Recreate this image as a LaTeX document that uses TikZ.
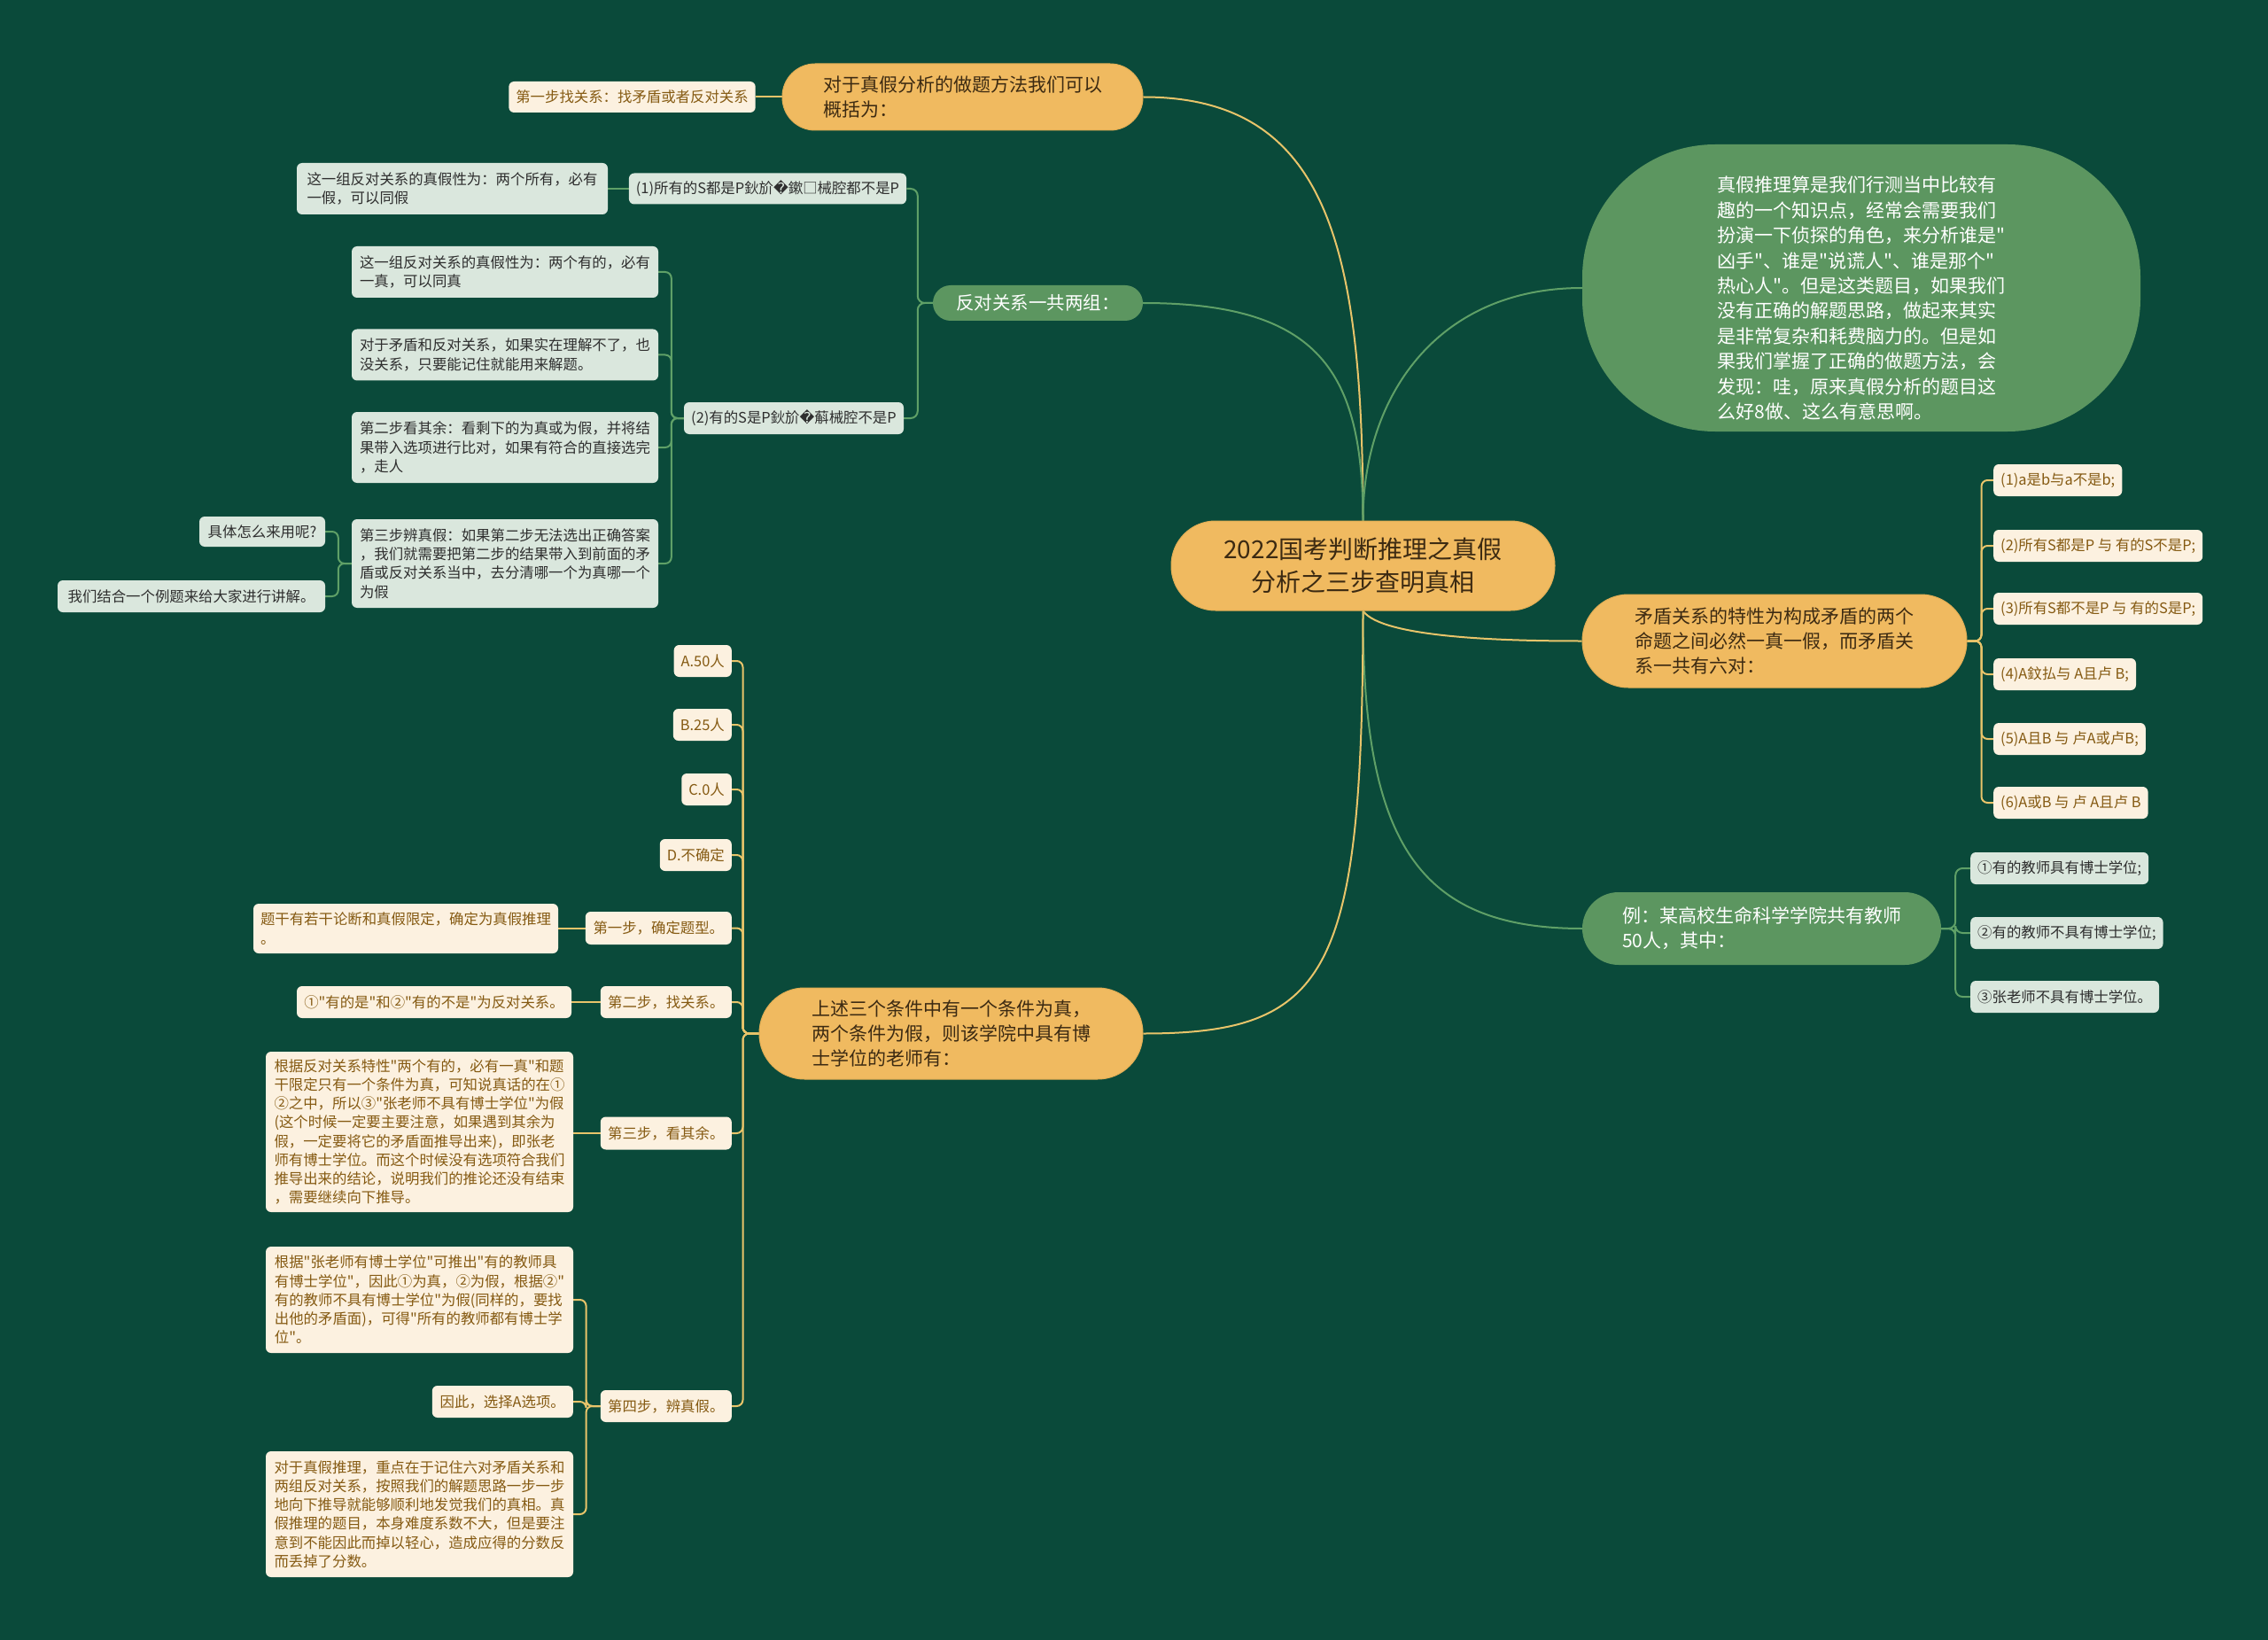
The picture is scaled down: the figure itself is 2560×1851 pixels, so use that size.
\documentclass[tikz,border=0pt]{standalone}
\usepackage{fontspec}
\usetikzlibrary{backgrounds}
\newfontfamily\cjk{Noto Sans CJK SC}
\newfontfamily\dvs{DejaVu Sans}
\definecolor{bgc}{HTML}{0A4A3A}
\definecolor{orc}{HTML}{F0BA60}
\definecolor{ordr}{HTML}{E2AE55}
\definecolor{ort}{HTML}{3C2A12}
\definecolor{olc}{HTML}{E8C46A}
\definecolor{crc}{HTML}{FCF1E0}
\definecolor{crt}{HTML}{855A12}
\definecolor{lgc}{HTML}{DAE7DD}
\definecolor{lgt}{HTML}{2E2E2E}
\definecolor{grc}{HTML}{5C9660}
\definecolor{glc}{HTML}{5FA067}
\newcommand\mmsmall{\cjk\fontsize{16.4}{21.2}\selectfont}
\newcommand\mmmid{\cjk\fontsize{21}{28}\selectfont}
\newcommand\mmbig{\cjk\fontsize{28}{37}\selectfont}
\newcommand\rep{{\dvs\char"FFFD}}
\tikzset{
  cream/.style={fill=crc, text=crt, rounded corners=6pt, inner xsep=8pt, inner ysep=5pt, align=left, font=\mmsmall},
  lgbox/.style={fill=lgc, text=lgt, rounded corners=6pt, inner xsep=8pt, inner ysep=5pt, align=left, font=\mmsmall},
  opill/.style={fill=orc, draw=ordr, line width=1pt, text=ort, align=left, font=\mmmid},
  gpill/.style={fill=grc, text=white, align=left, font=\mmmid},
  oline/.style={draw=olc, line width=2pt},
  gline/.style={draw=glc, line width=2pt},
}
\begin{document}
\begin{tikzpicture}[x=1pt,y=-1pt]
\begin{pgfonlayer}{background}
\fill[bgc] (0,0) rectangle (2560,1851);
\end{pgfonlayer}
\useasboundingbox (0,0) rectangle (2560,1851);

% root
\node[opill, font=\mmbig, align=center, minimum width=433pt, minimum height=101pt, rounded corners=50pt] (root) at (1538.5,638.5) {2022国考判断推理之真假\\分析之三步查明真相};

% upper left
\node[opill, minimum width=407pt, minimum height=75pt, rounded corners=37pt] (b1) at (1086.5,109.5) {对于真假分析的做题方法我们可以\\概括为：};
\node[cream, minimum width=277pt, minimum height=35pt] (b1c) at (713.5,109.5) {第一步找关系：找矛盾或者反对关系};

\node[gpill, font=\cjk\fontsize{20.5}{27}\selectfont, minimum width=237pt, minimum height=40pt, rounded corners=20pt] (b2) at (1171.5,342) {反对关系一共两组：};
\node[lgbox, minimum width=307pt, minimum height=35pt] (b2a) at (866.5,213) {(1)所有的S都是P鈥斺\rep 鏉□械腔都不是P};
\node[lgbox, minimum width=351pt, minimum height=58pt] (b2a1) at (510.5,213) {这一组反对关系的真假性为：两个所有，必有\\一假，可以同假};
\node[lgbox, minimum width=248pt, minimum height=36pt] (b2b) at (896,472) {(2)有的S是P鈥斺\rep 蔛械腔不是P};
\node[lgbox, minimum width=346pt, minimum height=58pt] (b2b1) at (570,307) {这一组反对关系的真假性为：两个有的，必有\\一真，可以同真};
\node[lgbox, minimum width=346pt, minimum height=58pt] (b2b2) at (570,400.5) {对于矛盾和反对关系，如果实在理解不了，也\\没关系，只要能记住就能用来解题。};
\node[lgbox, minimum width=346pt, minimum height=80pt] (b2b3) at (570,505) {第二步看其余：看剩下的为真或为假，并将结\\果带入选项进行比对，如果有符合的直接选完\\，走人};
\node[lgbox, minimum width=346pt, minimum height=100pt] (b2b4) at (570,636) {第三步辨真假：如果第二步无法选出正确答案\\，我们就需要把第二步的结果带入到前面的矛\\盾或反对关系当中，去分清哪一个为真哪一个\\为假};
\node[lgbox, minimum width=142pt, minimum height=34pt] (b2b4a) at (296,600) {具体怎么来用呢?};
\node[lgbox, minimum width=302pt, minimum height=36pt] (b2b4b) at (216,673) {我们结合一个例题来给大家进行讲解。};

% lower left
\node[opill, minimum width=433pt, minimum height=103pt, rounded corners=51pt] (b3) at (1073.5,1166.5) {上述三个条件中有一个条件为真，\\两个条件为假，则该学院中具有博\\士学位的老师有：};
\node[cream, anchor=east, minimum height=36pt] (oa) at (826,746) {A.50人};
\node[cream, anchor=east, minimum height=36pt] (ob) at (826,818) {B.25人};
\node[cream, anchor=east, minimum height=36pt] (oc) at (826,891) {C.0人};
\node[cream, anchor=east, minimum height=36pt] (od) at (826,965) {D.不确定};
\node[cream, anchor=east, minimum width=165pt, minimum height=37pt] (s1) at (826,1047.5) {第一步，确定题型。};
\node[cream, minimum width=344pt, minimum height=56pt] (s1c) at (458,1048) {题干有若干论断和真假限定，确定为真假推理\\。};
\node[cream, anchor=east, minimum width=148pt, minimum height=36pt] (s2) at (826,1131) {第二步，找关系。};
\node[cream, minimum width=310pt, minimum height=36pt] (s2c) at (490,1131) {①"有的是"和②"有的不是"为反对关系。};
\node[cream, anchor=east, minimum width=148pt, minimum height=37pt] (s3) at (826,1279) {第三步，看其余。};
\node[cream, minimum width=347pt, minimum height=181pt] (s3c) at (473.5,1277.5) {根据反对关系特性"两个有的，必有一真"和题\\干限定只有一个条件为真，可知说真话的在①\\②之中，所以③"张老师不具有博士学位"为假\\(这个时候一定要主要注意，如果遇到其余为\\假，一定要将它的矛盾面推导出来)，即张老\\师有博士学位。而这个时候没有选项符合我们\\推导出来的结论，说明我们的推论还没有结束\\，需要继续向下推导。};
\node[cream, anchor=east, minimum width=148pt, minimum height=36pt] (s4) at (826,1587) {第四步，辨真假。};
\node[cream, minimum width=347pt, minimum height=120pt] (s4a) at (473.5,1467) {根据"张老师有博士学位"可推出"有的教师具\\有博士学位"，因此①为真，②为假，根据②"\\有的教师不具有博士学位"为假(同样的，要找\\出他的矛盾面)，可得"所有的教师都有博士学\\位"。};
\node[cream, anchor=east, minimum width=159pt, minimum height=36pt] (s4b) at (647,1582) {因此，选择A选项。};
\node[cream, minimum width=347pt, minimum height=142pt] (s4c) at (473.5,1709) {对于真假推理，重点在于记住六对矛盾关系和\\两组反对关系，按照我们的解题思路一步一步\\地向下推导就能够顺利地发觉我们的真相。真\\假推理的题目，本身难度系数不大，但是要注\\意到不能因此而掉以轻心，造成应得的分数反\\而丢掉了分数。};

% right
\node[gpill, font=\cjk\fontsize{21}{28.4}\selectfont, minimum width=630pt, minimum height=324pt, rounded corners=150pt] (r1) at (2101,325) {\rule{0pt}{41pt}真假推理算是我们行测当中比较有\\趣的一个知识点，经常会需要我们\\扮演一下侦探的角色，来分析谁是"\\凶手"、谁是"说谎人"、谁是那个"\\热心人"。但是这类题目，如果我们\\没有正确的解题思路，做起来其实\\是非常复杂和耗费脑力的。但是如\\果我们掌握了正确的做题方法，会\\发现：哇，原来真假分析的题目这\\么好8做、这么有意思啊。};
\node[opill, minimum width=434pt, minimum height=105pt, rounded corners=52pt] (r2) at (2003,723.5) {矛盾关系的特性为构成矛盾的两个\\命题之间必然一真一假，而矛盾关\\系一共有六对：};
\node[cream, anchor=west, minimum height=36pt] (m1) at (2250,542) {(1)a是b与a不是b;};
\node[cream, anchor=west, minimum height=36pt] (m2) at (2250,616) {(2)所有S都是P 与 有的S不是P;};
\node[cream, anchor=west, minimum height=36pt] (m3) at (2250,687) {(3)所有S都不是P 与 有的S是P;};
\node[cream, anchor=west, minimum height=36pt] (m4) at (2250,761) {(4)A鈫払与 A且卢 B;};
\node[cream, anchor=west, minimum height=36pt] (m5) at (2250,834) {(5)A且B 与 卢A或卢B;};
\node[cream, anchor=west, minimum height=36pt] (m6) at (2250,906) {(6)A或B 与 卢 A且卢 B};
\node[gpill, minimum width=405pt, minimum height=82pt, rounded corners=41pt] (r3) at (1988.5,1048) {例：某高校生命科学学院共有教师\\50人，其中：};
\node[lgbox, anchor=west, minimum height=36pt] (e1) at (2224,980) {①有的教师具有博士学位;};
\node[lgbox, anchor=west, minimum height=36pt] (e2) at (2224,1053) {②有的教师不具有博士学位;};
\node[lgbox, anchor=west, minimum height=36pt] (e3) at (2224,1125) {③张老师不具有博士学位。};

\begin{pgfonlayer}{background}
% root connectors
\draw[oline] (root.north) .. controls (1538,281) and (1500,109.5) .. (b1.east);
\draw[gline] (root.north) .. controls (1538,420) and (1490,342) .. (b2.east);
\draw[gline] (root.north) .. controls (1538,450) and (1620,325) .. (r1.west);
\draw[oline] (root.south) .. controls (1560,720) and (1700,723.5) .. (r2.west);
\draw[gline] (root.south) .. controls (1538,950) and (1600,1048) .. (r3.west);
\draw[oline] (root.south) .. controls (1538,1100) and (1500,1166.5) .. (b3.east);
% upper left
\draw[oline] (b1.west) -- (b1c.east);
\foreach \c in {b2a,b2b} \draw[gline, rounded corners=8pt] (b2.west) -- ++(-17,0) |- (\c.east);
\draw[gline] (b2a.west) -- (b2a1.east);
\foreach \c in {b2b1,b2b2,b2b3,b2b4} \draw[gline, rounded corners=7pt] (b2b.west) -- ++(-14,0) |- (\c.east);
\foreach \c in {b2b4a,b2b4b} \draw[gline, rounded corners=7pt] (b2b4.west) -- ++(-15,0) |- (\c.east);
% lower left
\foreach \c in {oa,ob,oc,od,s1,s2,s3,s4} \draw[oline, rounded corners=7pt] (b3.west) -- ++(-18,0) |- (\c.east);
\draw[oline] (s1.west) -- (s1.west -| s1c.east);
\draw[oline] (s2.west) -- (s2c.east);
\draw[oline] (s3.west) -- (s3.west -| s3c.east);
\foreach \c in {s4a,s4b,s4c} \draw[oline, rounded corners=7pt] (s4.west) -- ++(-16,0) |- (\c.east);
% right
\foreach \c in {m1,m2,m3,m4,m5,m6} \draw[oline, rounded corners=7pt] (r2.east) -- ++(16,0) |- (\c.west);
\foreach \c in {e1,e2,e3} \draw[gline, rounded corners=8pt] (r3.east) -- ++(16,0) |- (\c.west);
\end{pgfonlayer}
\end{tikzpicture}
\end{document}
